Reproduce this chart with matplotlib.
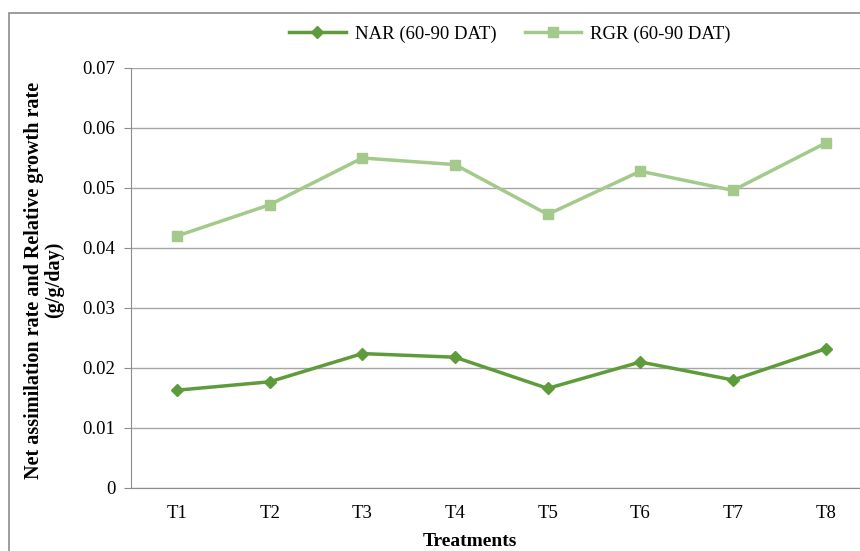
import matplotlib
matplotlib.use("Agg")
import matplotlib.pyplot as plt
from matplotlib.patches import Rectangle

categories = ["T1", "T2", "T3", "T4", "T5", "T6", "T7", "T8"]
nar = [0.0163, 0.0177, 0.0224, 0.0218, 0.0166, 0.0210, 0.0180, 0.0232]
rgr = [0.0420, 0.0472, 0.0550, 0.0539, 0.0456, 0.0528, 0.0496, 0.0575]
yticks = [0, 0.01, 0.02, 0.03, 0.04, 0.05, 0.06, 0.07]
ytick_labels = ["0", "0.01", "0.02", "0.03", "0.04", "0.05", "0.06", "0.07"]

plt.rcParams['font.family'] = ['Liberation Serif', 'DejaVu Serif']

W, H = 860, 551
fig = plt.figure(figsize=(W / 100, H / 100), dpi=100)
ax = fig.add_axes([130.6 / W, (H - 488) / H, 1 - 130.6 / W, (488 - 68) / H])

x = list(range(1, len(categories) + 1))
ax.plot(x, nar, color="#5e9b3b", lw=2.5, marker="D", ms=6, label="NAR (60-90 DAT)")
ax.plot(x, rgr, color="#a3c98b", lw=2.5, marker="s", ms=7, label="RGR (60-90 DAT)")

ax.set_xlim(0.5, 8.37)
ax.set_ylim(0, 0.07)
ax.set_yticks(yticks)
ax.set_yticklabels(ytick_labels, fontsize=13.5)
ax.set_xticks(x)
ax.set_xticklabels(categories, fontsize=13.5)
ax.tick_params(axis="x", length=0, pad=12)
ax.tick_params(axis="y", length=5, color="#8c8c8c", pad=6)
ax.yaxis.grid(True, color="#a6a6a6", lw=1)
ax.set_axisbelow(True)
for s in ["top", "right"]:
    ax.spines[s].set_visible(False)
ax.spines["left"].set_color("#8c8c8c")
ax.spines["bottom"].set_color("#8c8c8c")

fig.text(44 / W, 1 - 280 / H, "Net assimilation rate and Relative growth rate\n(g/g/day)",
         rotation=90, ha="center", va="center", fontsize=14.5, fontweight="bold",
         linespacing=1.05, multialignment="center")
fig.text(470 / W, 1 - 542 / H, "Treatments", ha="center", va="center",
         fontsize=14, fontweight="bold")

fig.legend(loc="center", bbox_to_anchor=(510 / W, 1 - 34 / H), ncol=2, frameon=False,
           fontsize=13.5, handlelength=3, columnspacing=1.5, handletextpad=0.5)

fig.patches.append(Rectangle((8.5 / W, -0.01), 1.0, 1 - 13 / H + 0.01, transform=fig.transFigure,
                             fill=False, edgecolor="#8c8c8c", lw=1.2))

fig.savefig("out.png", dpi=100)
